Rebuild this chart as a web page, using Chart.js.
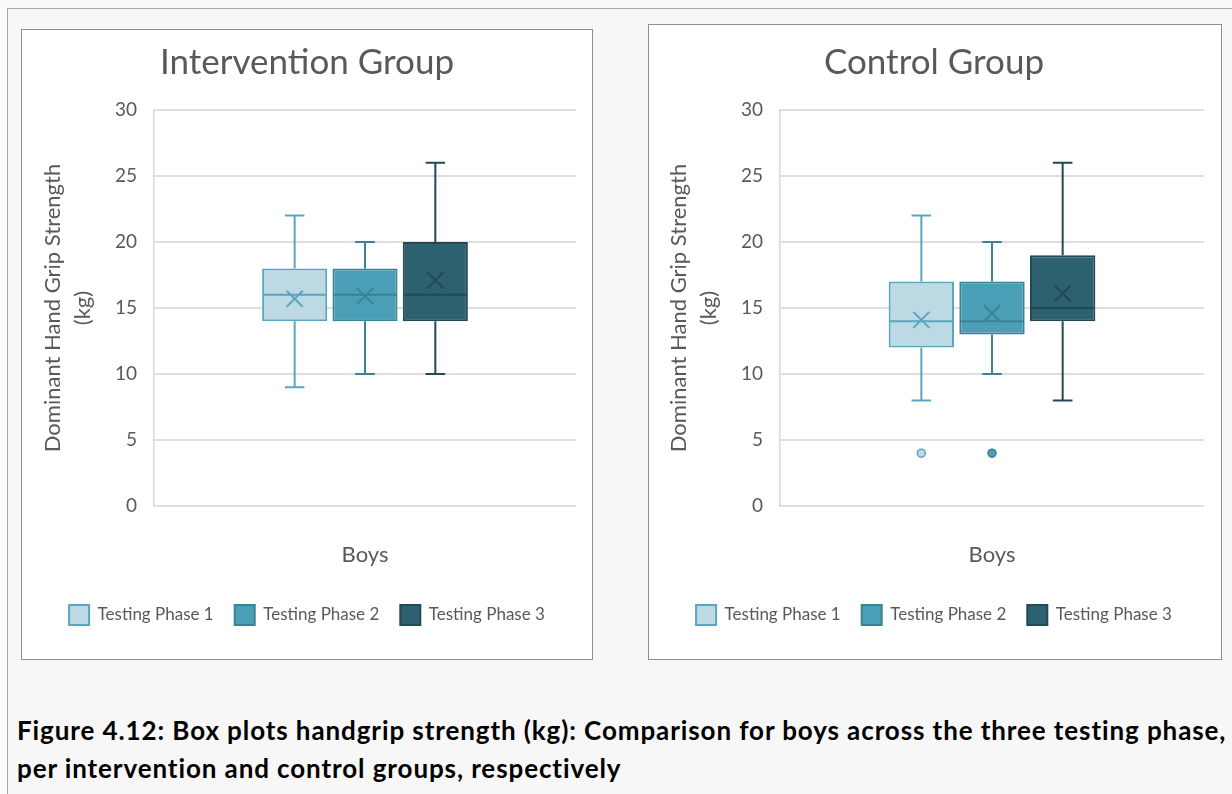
<!DOCTYPE html>
<html>
<head>
<meta charset="utf-8">
<title>Hand grip strength box plots</title>
<script src="https://cdn.jsdelivr.net/npm/chart.js@4.4.1/dist/chart.umd.min.js"></script>
<style>
  html, body { margin: 0; padding: 0; background: #fafafa; }
  body { width: 1232px; height: 794px; position: relative; overflow: hidden; font-family: Lato, "Noto Sans", sans-serif; }
  .frame { position: absolute; left: 7px; top: 8px; width: 1240px; height: 800px; border: 1px solid #a6a6a6; background: #f7f7f7; }
  .panel { position: absolute; background: #fff; border: 1px solid #8f8f8f; box-sizing: border-box; }
  .chart-box { position: absolute; }
  .caption { position: absolute; left: 17px; top: 711px; font-size: 26px; letter-spacing: 0.9px; font-weight: bold; line-height: 38px; color: #000; white-space: nowrap; }
</style>
</head>
<body>
<div class="frame"></div>
<div class="panel" style="left:21px; top:29px; width:572px; height:631px;"></div>
<div class="panel" style="left:648px; top:24px; width:574px; height:636px;"></div>
<div class="chart-box" style="left:22px; top:30px; width:570px; height:629px;"><canvas id="interventionChart"></canvas></div>
<div class="chart-box" style="left:649px; top:30px; width:572px; height:629px;"><canvas id="controlChart"></canvas></div>
<div class="caption">Figure 4.12: Box plots handgrip strength (kg): Comparison for boys across the three testing phase,<br>per intervention and control groups, respectively</div>

<script>
// categories and series
const categories = ['Boys'];
const phaseLabels = ['Testing Phase 1', 'Testing Phase 2', 'Testing Phase 3'];
const yTicks = [0, 5, 10, 15, 20, 25, 30];

// Intervention group, one value per testing phase
const intMin = [9, 10, 10];
const intQ1 = [14, 14, 14];
const intMedian = [16, 16, 16];
const intQ3 = [18, 18, 20];
const intMax = [22, 20, 26];
const intMean = [15.7, 15.9, 17.1];
const intOutliers = [[], [], []];

// Control group
const ctlMin = [8, 10, 8];
const ctlQ1 = [12, 13, 14];
const ctlMedian = [14, 14, 15];
const ctlQ3 = [17, 17, 19];
const ctlMax = [22, 20, 26];
const ctlMean = [14.1, 14.6, 16.1];
const ctlOutliers = [[4], [4], []];

const fills = ['#BCD9E4', '#4A9FB6', '#2E6170'];
const borders = ['#5AA6BF', '#3A8294', '#224A55'];
const textColor = '#595959';
const fontFamily = 'Lato, "Noto Sans", sans-serif';

// draws whiskers, median, mean marker and outliers on top of the floating bars
const boxPlotParts = {
    id: 'boxPlotParts',
    afterDatasetsDraw(chart) {
        const ctx = chart.ctx;
        const yScale = chart.scales.y;
        chart.data.datasets.forEach((ds, i) => {
            const bar = chart.getDatasetMeta(i).data[0];
            const { x, width } = bar.getProps(['x', 'width'], true);
            const s = ds.stats;
            const half = width / 2;
            const cap = width * 0.15;
            const py = v => yScale.getPixelForValue(v);

            ctx.save();
            ctx.strokeStyle = ds.borderColor;
            ctx.lineWidth = 2;

            // whiskers
            ctx.beginPath();
            ctx.moveTo(x, py(s.q3));
            ctx.lineTo(x, py(s.max));
            ctx.moveTo(x - cap, py(s.max));
            ctx.lineTo(x + cap, py(s.max));
            ctx.moveTo(x, py(s.q1));
            ctx.lineTo(x, py(s.min));
            ctx.moveTo(x - cap, py(s.min));
            ctx.lineTo(x + cap, py(s.min));
            ctx.stroke();

            // median
            ctx.beginPath();
            ctx.moveTo(x - half + 1, py(s.median));
            ctx.lineTo(x + half - 1, py(s.median));
            ctx.stroke();

            // mean marker
            const m = py(s.mean);
            const k = 8;
            ctx.beginPath();
            ctx.moveTo(x - k, m - k);
            ctx.lineTo(x + k, m + k);
            ctx.moveTo(x + k, m - k);
            ctx.lineTo(x - k, m + k);
            ctx.stroke();

            // outliers
            ctx.fillStyle = ds.backgroundColor;
            ctx.lineWidth = 1.5;
            s.outliers.forEach(v => {
                ctx.beginPath();
                ctx.arc(x, py(v), 4, 0, Math.PI * 2);
                ctx.fill();
                ctx.stroke();
            });
            ctx.restore();
        });
    }
};

function buildDatasets(mins, q1s, medians, q3s, maxs, means, outliers) {
    return phaseLabels.map((label, i) => ({
        label: label,
        data: [[q1s[i], q3s[i]]],
        backgroundColor: fills[i],
        borderColor: borders[i],
        borderWidth: 2,
        borderSkipped: false,
        categoryPercentage: 0.5,
        barPercentage: 0.925,
        stats: {
            min: mins[i], q1: q1s[i], median: medians[i], q3: q3s[i],
            max: maxs[i], mean: means[i], outliers: outliers[i]
        }
    }));
}

function makeChart(canvasId, title, datasets, leftPad, rightPad) {
    const ctx = document.getElementById(canvasId).getContext('2d');
    return new Chart(ctx, {
        type: 'bar',
        data: { labels: categories, datasets: datasets },
        plugins: [boxPlotParts],
        options: {
            responsive: true,
            maintainAspectRatio: false,
            animation: false,
            layout: { padding: { left: leftPad, right: rightPad, top: 0, bottom: 24 } },
            plugins: {
                title: {
                    display: true,
                    text: title,
                    color: textColor,
                    font: { family: fontFamily, size: 35, weight: 'normal', lineHeight: 1.2 },
                    padding: { top: 12, bottom: 26 }
                },
                legend: {
                    position: 'bottom',
                    labels: {
                        boxWidth: 20,
                        boxHeight: 20,
                        padding: 21,
                        color: textColor,
                        font: { family: fontFamily, size: 17 }
                    }
                },
                tooltip: { enabled: false }
            },
            scales: {
                x: {
                    grid: { display: false, drawTicks: false },
                    border: { display: false },
                    ticks: { color: textColor, font: { family: fontFamily, size: 22 }, padding: 36 },
                    afterFit: scale => { scale.height = 78; }
                },
                y: {
                    min: 0,
                    max: 30,
                    afterBuildTicks: scale => { scale.ticks = yTicks.map(v => ({ value: v })); },
                    grid: { color: '#dedede', lineWidth: 2, drawTicks: false },
                    border: { display: true, color: '#d9d9d9', width: 1.5 },
                    ticks: { color: textColor, font: { family: fontFamily, size: 19 }, padding: 17 },
                    title: {
                        display: true,
                        text: ['Dominant Hand Grip Strength', '(kg)'],
                        color: textColor,
                        font: { family: fontFamily, size: 22, lineHeight: '30px' },
                        padding: { top: 0, bottom: 0 }
                    },
                    afterFit: scale => { scale.width = 116; }
                }
            }
        }
    });
}

makeChart('interventionChart', 'Intervention Group',
    buildDatasets(intMin, intQ1, intMedian, intQ3, intMax, intMean, intOutliers), 16, 16);
makeChart('controlChart', 'Control Group',
    buildDatasets(ctlMin, ctlQ1, ctlMedian, ctlQ3, ctlMax, ctlMean, ctlOutliers), 15, 17);
</script>
</body>
</html>
